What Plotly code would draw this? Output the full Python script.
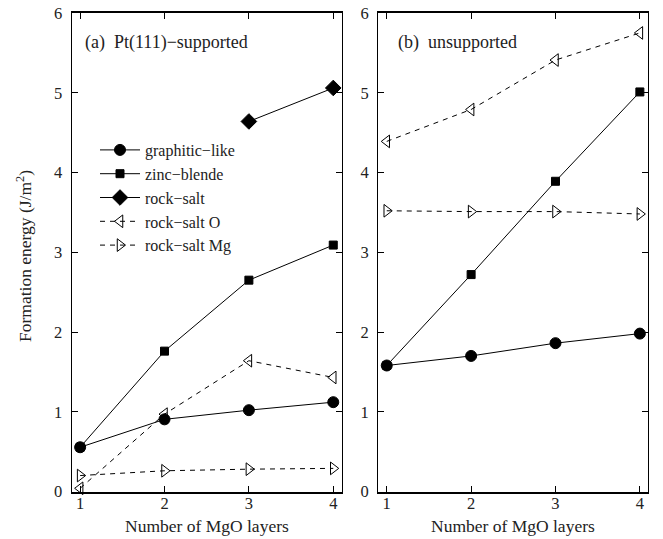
import plotly.graph_objects as go
from plotly.subplots import make_subplots

layers = [1, 2, 3, 4]

# (a) Pt(111)-supported
sup_graphitic = [0.555, 0.905, 1.02, 1.12]
sup_zinc = [0.555, 1.76, 2.65, 3.09]
sup_rock_layers = [3, 4]
sup_rock = [4.64, 5.06]
sup_rockO = [0.04, 0.97, 1.64, 1.43]
sup_rockMg = [0.20, 0.26, 0.28, 0.29]

# (b) unsupported
uns_graphitic = [1.58, 1.70, 1.86, 1.98]
uns_zinc = [1.58, 2.72, 3.89, 5.01]
uns_rockO = [4.39, 4.79, 5.41, 5.75]
uns_rockMg = [3.52, 3.51, 3.51, 3.48]

names = ["graphitic−like", "zinc−blende", "rock−salt", "rock−salt O", "rock−salt Mg"]
y_ticks = [0, 1, 2, 3, 4, 5, 6]

FONT = "Liberation Serif"

fig = make_subplots(rows=1, cols=2, horizontal_spacing=0.05)

styles = {
    "graphitic−like": dict(symbol="circle", size=11, dash="solid"),
    "zinc−blende": dict(symbol="square", size=8, dash="solid"),
    "rock−salt": dict(symbol="diamond", size=12, dash="solid"),
    "rock−salt O": dict(symbol="triangle-left-open", size=11, dash="5px,5px"),
    "rock−salt Mg": dict(symbol="triangle-right-open", size=11, dash="5px,5px"),
}

def add(x, y, name, col, show):
    s = styles[name]
    fig.add_trace(go.Scatter(
        x=x, y=y, name=name, mode="lines+markers",
        line=dict(color="black", width=1, dash=s["dash"]),
        marker=dict(symbol=s["symbol"], size=s["size"], color="black",
                    line=dict(color="black", width=1)),
        showlegend=show, legendrank=names.index(name) + 1,
        cliponaxis=False,
    ), row=1, col=col)

add(layers, sup_rockMg, "rock−salt Mg", 1, True)
add(layers, sup_rockO, "rock−salt O", 1, True)
add(sup_rock_layers, sup_rock, "rock−salt", 1, True)
add(layers, sup_zinc, "zinc−blende", 1, True)
add(layers, sup_graphitic, "graphitic−like", 1, True)

add(layers, uns_rockMg, "rock−salt Mg", 2, False)
add(layers, uns_rockO, "rock−salt O", 2, False)
add(layers, uns_zinc, "zinc−blende", 2, False)
add(layers, uns_graphitic, "graphitic−like", 2, False)

W, H = 663, 539
xdom1 = [71.7 / W, 341.7 / W]
xdom2 = [378.3 / W, 648.3 / W]
ydom = [1 - 491.5 / H, 1 - 13 / H]

TXT = "#222"
axis_common = dict(
    showline=True, linecolor="black", mirror="allticks",
    ticks="inside", ticklen=6, tickwidth=1, tickcolor="black",
    showgrid=False, zeroline=False, automargin=False,
    tickfont=dict(family=FONT, size=16.5, color=TXT),
)

for i, dom in ((1, xdom1), (2, xdom2)):
    fig.update_xaxes(axis_common, row=1, col=i, domain=dom, range=[0.9, 4.1],
                     tickvals=layers, ticktext=[str(v) for v in layers],
                     linewidth=1.6, ticklabelstandoff=-4)
    fig.update_yaxes(axis_common, row=1, col=i, domain=ydom, range=[0, 6],
                     tickvals=y_ticks, ticktext=[str(v) for v in y_ticks],
                     linewidth=1.3, ticklabelstandoff=5)

def text(t, x, y, size=17.5, **kw):
    d = dict(text=t, x=x / W, y=1 - y / H, xref="paper", yref="paper",
             showarrow=False, font=dict(family=FONT, size=size, color=TXT),
             xanchor="center", yanchor="middle")
    d.update(kw)
    return d

ann = [
    text("Number of MgO layers", (xdom1[0] + xdom1[1]) / 2 * W, 526),
    text("Number of MgO layers", (xdom2[0] + xdom2[1]) / 2 * W, 526),
    text("Formation energy (J/m<sup>2</sup>)", 24, 256, textangle=-90),
    text("(a)  Pt(111)−supported", 83, 43, size=18, xanchor="left"),
    text("(b)  unsupported", 396, 43, size=18, xanchor="left"),
]

fig.update_layout(
    width=W, height=H,
    margin=dict(l=0, r=0, t=0, b=0, autoexpand=False),
    paper_bgcolor="white", plot_bgcolor="white",
    annotations=ann,
    legend=dict(x=95 / W, y=1 - 133 / H, xanchor="left", yanchor="top",
                bgcolor="rgba(0,0,0,0)", font=dict(family=FONT, size=16, color=TXT),
                itemwidth=40, tracegroupgap=0),
    font=dict(family=FONT, color=TXT),
)

fig.write_html("out.html")
